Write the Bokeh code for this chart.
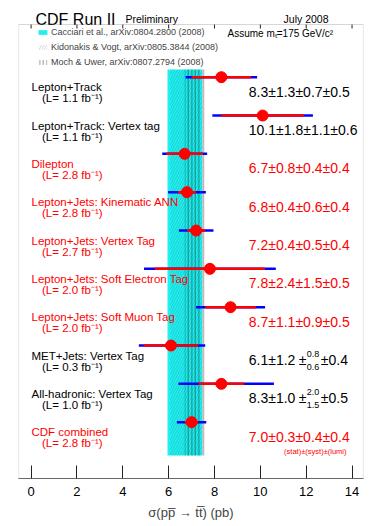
import math
from bokeh.plotting import figure
from bokeh.models import (Range1d, FixedTicker, Legend, LegendItem, ColumnDataSource,
                          BoxAnnotation)
from bokeh.embed import file_html
from bokeh.resources import INLINE
from bokeh.core.properties import value

# ---------------- data ----------------
channels = ["Lepton+Track", "Lepton+Track: Vertex tag", "Dilepton",
            "Lepton+Jets: Kinematic ANN", "Lepton+Jets: Vertex Tag",
            "Lepton+Jets: Soft Electron Tag", "Lepton+Jets: Soft Muon Tag",
            "MET+Jets: Vertex Tag", "All-hadronic: Vertex Tag", "CDF combined"]
lumis = [1.1, 1.1, 2.8, 2.8, 2.7, 2.0, 2.0, 0.3, 1.0, 2.8]
xsec = [8.3, 10.1, 6.7, 6.8, 7.2, 7.8, 8.7, 6.1, 8.3, 7.0]
stat = [1.3, 1.8, 0.8, 0.4, 0.4, 2.4, 1.1, 1.2, 1.0, 0.3]
syst_up = [0.7, 1.1, 0.4, 0.6, 0.5, 1.5, 0.9, 0.8, 2.0, 0.4]
syst_dn = [0.7, 1.1, 0.4, 0.6, 0.5, 1.5, 0.9, 0.6, 1.5, 0.4]
lumi_err = [0.5, 0.6, 0.4, 0.4, 0.4, 0.5, 0.5, 0.4, 0.5, 0.4]
highlight = [False, False, True, True, True, True, True, False, False, True]

theory_names = ["Cacciari et al., arXiv:0804.2800 (2008)",
                "Kidonakis & Vogt, arXiv:0805.3844 (2008)",
                "Moch & Uwer, arXiv:0807.2794 (2008)"]
theory_lo = [5.95, 6.07, 6.70]
theory_hi = [7.47, 7.45, 7.40]

x_ticks = [0, 2, 4, 6, 8, 10, 12, 14]

# ---------------- geometry ----------------
X0, X1 = -0.55, 14.5
Y0, Y1 = -0.47, 11.375          # visible plot box
FL, FT, FW, FH = 18, 24, 345, 454   # plot box in page px
PXX = FW / (X1 - X0)
PXY = FH / (Y1 - Y0)
YTOP = Y1 + FT / PXY            # frame extended up to the page top for the header


def dx(px):
    return X0 + (px - FL) / PXX


def dy(py):
    return Y1 - (py - FT) / PXY


FONT = "Liberation Sans"
RED = "#ff0000"
BLUE = "#0000ff"

n = len(channels)
ypos = [n - i for i in range(n)]
band_y0, band_y1 = 0.13, 10.2

p = figure(width=378, height=FT + FH + 44, x_range=Range1d(X0, X1),
           y_range=Range1d(Y0, YTOP), title=None,
           output_backend="svg", toolbar_location=None,
           min_border_left=FL, min_border_right=378 - FL - FW, min_border_top=0,
           min_border_bottom=44)
p.background_fill_color = "white"
p.border_fill_color = "white"
p.outline_line_color = None
p.xgrid.visible = False
p.ygrid.visible = False
p.yaxis.visible = False

ax = p.xaxis[0]
ax.ticker = FixedTicker(ticks=x_ticks)
ax.major_tick_in = 13
ax.major_tick_out = 0
ax.minor_tick_line_color = None
ax.major_tick_line_color = "#222222"
ax.axis_line_color = "#666666"
ax.major_label_text_font = FONT
ax.major_label_text_font_size = "13px"
ax.major_label_text_color = "black"
ax.major_label_standoff = 8
ax.axis_label = "σ(pp\u0305 → tt\u0305) (pb)"
ax.axis_label_text_font = FONT
ax.axis_label_text_font_size = "13px"
ax.axis_label_text_font_style = "normal"
ax.axis_label_standoff = 6

# plot box (the frame itself reaches up to the header)
p.add_layout(BoxAnnotation(left=X0, right=X1, bottom=Y0, top=Y1, fill_alpha=0,
                           line_color="#777777", line_width=1.2))

# short inward ticks along the top edge
p.segment(x0=x_ticks, x1=x_ticks, y0=[Y1] * len(x_ticks), y1=[Y1 - 4 / PXY] * len(x_ticks),
          line_color="#222222", line_width=1)

# ---------------- theory band ----------------
r_cac = p.quad(left=[theory_lo[0]], right=[theory_hi[0]], bottom=[band_y0], top=[band_y1],
               fill_color="#22f0f0", line_color=None)
r_kid = p.quad(left=[theory_lo[1]], right=[theory_hi[1]], bottom=[band_y0], top=[band_y1],
               fill_alpha=0, line_color=None, hatch_pattern="/", hatch_scale=5,
               hatch_weight=0.5, hatch_color="#002a2a", hatch_alpha=0.35)
r_moch = p.quad(left=[theory_lo[2]], right=[theory_hi[2]], bottom=[band_y0], top=[band_y1],
                fill_alpha=0, line_color=None, hatch_pattern="|", hatch_scale=3.5,
                hatch_weight=0.6, hatch_color="#001111", hatch_alpha=0.75)
p.segment(x0=[theory_hi[0] + 0.04], x1=[theory_hi[0] + 0.04], y0=[band_y0], y1=[band_y1],
          line_color="#bbbbbb", line_width=2)

# ---------------- measurements ----------------
tot_up = [math.sqrt(s ** 2 + u ** 2 + l ** 2) for s, u, l in zip(stat, syst_up, lumi_err)]
tot_dn = [math.sqrt(s ** 2 + d ** 2 + l ** 2) for s, d, l in zip(stat, syst_dn, lumi_err)]
src = ColumnDataSource(dict(
    x=xsec, y=ypos,
    tlo=[v - d for v, d in zip(xsec, tot_dn)], thi=[v + u for v, u in zip(xsec, tot_up)],
    slo=[v - s for v, s in zip(xsec, stat)], shi=[v + s for v, s in zip(xsec, stat)],
))
p.segment(x0="tlo", x1="thi", y0="y", y1="y", source=src, line_color=BLUE, line_width=2.5)
p.segment(x0="slo", x1="shi", y0="y", y1="y", source=src, line_color=RED, line_width=2.5)
p.scatter(x="x", y="y", source=src, size=11, fill_color=RED, line_color=RED)

# ---------------- texts ----------------
colors = [RED if hl else "black" for hl in highlight]
name_x = dx(31)
lumi_x = dx(41.5)
val_x = dx(248.3)

p.text(x=[name_x] * n, y=[y - 10 / PXY for y in ypos], text=channels,
       text_color=colors, text_font=value(FONT), text_font_size="11.5px",
       text_baseline="middle", text_align="left")
p.text(x=[lumi_x] * n, y=[y - 21 / PXY for y in ypos],
       text=[f"(L= {l:.1f} fb⁻¹)" for l in lumis],
       text_color=colors, text_font=value(FONT), text_font_size="11.5px",
       text_baseline="middle", text_align="left")

for i in range(n):
    yv = ypos[i] - 14.5 / PXY
    if abs(syst_up[i] - syst_dn[i]) < 1e-9:
        p.text(x=[val_x], y=[yv], text=[f"{xsec[i]:.1f}±{stat[i]:.1f}±{syst_up[i]:.1f}±{lumi_err[i]:.1f}"],
               text_color=colors[i], text_font=value(FONT), text_font_size="14px",
               text_baseline="middle", text_align="left")
    else:
        p.text(x=[val_x], y=[yv], text=[f"{xsec[i]:.1f}±{stat[i]:.1f}"],
               text_color=colors[i], text_font=value(FONT), text_font_size="14px",
               text_baseline="middle", text_align="left")
        p.text(x=[val_x + 50 / PXX], y=[yv], text=["±"],
               text_color=colors[i], text_font=value(FONT), text_font_size="14px",
               text_baseline="middle", text_align="left")
        p.text(x=[val_x + 58 / PXX], y=[yv + 6 / PXY], text=[f"{syst_up[i]:.1f}"],
               text_color=colors[i], text_font=value(FONT), text_font_size="9px",
               text_baseline="middle", text_align="left")
        p.text(x=[val_x + 58 / PXX], y=[yv - 7 / PXY], text=[f"{syst_dn[i]:.1f}"],
               text_color=colors[i], text_font=value(FONT), text_font_size="9px",
               text_baseline="middle", text_align="left")
        p.text(x=[val_x + 72 / PXX], y=[yv], text=[f"±{lumi_err[i]:.1f}"],
               text_color=colors[i], text_font=value(FONT), text_font_size="14px",
               text_baseline="middle", text_align="left")

p.text(x=[dx(346)], y=[ypos[-1] - 29.5 / PXY], text=["(stat)±(syst)±(lumi)"],
       text_color=RED, text_font=value(FONT), text_font_size="7.5px",
       text_baseline="middle", text_align="right")

p.text(x=[dx(227)], y=[dy(33)], text=["Assume mₜ=175 GeV/c²"],
       text_color="black", text_font=value(FONT), text_font_size="10px",
       text_baseline="middle", text_align="left")

# header
p.text(x=[dx(35)], y=[dy(18.5)], text=["CDF Run II"], text_color="black",
       text_font=value(FONT), text_font_size="16px", text_baseline="alphabetic")
p.text(x=[dx(125)], y=[dy(18)], text=["Preliminary"], text_color="black",
       text_font=value(FONT), text_font_size="10.5px", text_baseline="alphabetic")
p.text(x=[dx(328)], y=[dy(18)], text=["July 2008"], text_color="black",
       text_font=value(FONT), text_font_size="10.5px", text_baseline="alphabetic",
       text_align="right")

legend = Legend(items=[LegendItem(label=theory_names[0], renderers=[r_cac]),
                       LegendItem(label=theory_names[1], renderers=[r_kid]),
                       LegendItem(label=theory_names[2], renderers=[r_moch])],
                location=(19, 411), margin=0, padding=0, spacing=5,
                label_height=10, glyph_height=6, glyph_width=11, label_standoff=3,
                label_text_font=FONT, label_text_font_size="9px",
                background_fill_alpha=0, border_line_color=None)
p.add_layout(legend)

open("out.html", "w").write(file_html(p, INLINE))
